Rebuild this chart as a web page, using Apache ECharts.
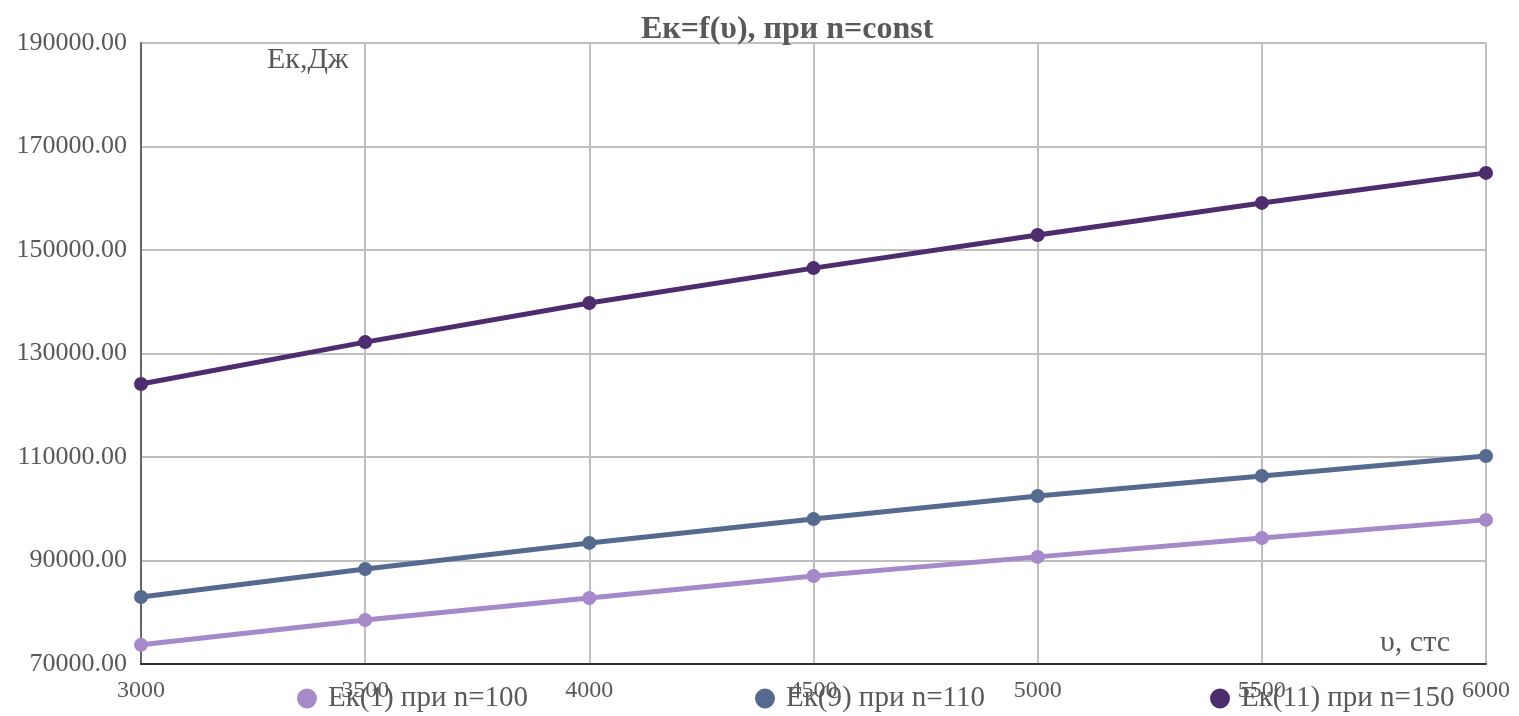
<!DOCTYPE html>
<html>
<head>
<meta charset="utf-8">
<script src="https://cdn.jsdelivr.net/npm/echarts@6/dist/echarts.min.js"></script>
<style>html,body{margin:0;padding:0;background:#fff}#c{width:1519px;height:716px}</style>
</head>
<body>
<div id="c"></div>
<script>
const speeds = [3000, 3500, 4000, 4500, 5000, 5500, 6000];
const seriesNames = ['Ек(1) при n=100', 'Ек(9) при n=110', 'Ек(11) при n=150'];
const ekN100 = [73700, 78500, 82750, 87000, 90700, 94350, 97850];
const ekN110 = [82950, 88350, 93400, 98000, 102450, 106350, 110200];
const ekN150 = [124100, 132200, 139750, 146500, 152900, 159100, 164900];
const colors = ['#A689C8', '#56698F', '#4D2D6E'];
const titleText = 'Ек=f(υ), при n=const';
const yName = 'Ек,Дж';
const xName = 'υ, стс';

const font = '"Liberation Serif", "DejaVu Serif", serif';
const toPairs = arr => speeds.map((s, i) => [s, arr[i]]);
const allData = [ekN100, ekN110, ekN150];

const chart = echarts.init(document.getElementById('c'), null, {renderer: 'canvas'});
chart.setOption({
  animation: false,
  backgroundColor: '#fff',
  title: {
    text: titleText, left: 636, top: 9,
    textStyle: {fontFamily: font, fontWeight: 'bold', fontSize: 32, color: '#595959'}
  },
  legend: [0, 1, 2].map((i) => ({
    data: [{name: seriesNames[i], icon: 'circle'}],
    left: [297, 755, 1210][i], top: 684, padding: 0,
    itemWidth: 20, itemHeight: 20, itemGap: 0,
    textStyle: {fontFamily: font, fontSize: 29, color: '#595959', padding: [0, 0, 0, 6]}
  })),
  grid: {left: 141, right: 33, top: 43, bottom: 52},
  xAxis: {
    type: 'value', min: 3000, max: 6000, interval: 500,
    name: xName, nameLocation: 'end', nameGap: -106,
    nameTextStyle: {fontFamily: font, fontSize: 30, color: '#595959', verticalAlign: 'bottom', align: 'left', padding: [0, 0, 6, 0]},
    axisLine: {show: true, lineStyle: {color: '#303030', width: 2}},
    axisTick: {show: false},
    axisLabel: {fontFamily: font, fontSize: 24, color: '#595959', margin: 15, formatter: v => String(v)},
    splitLine: {show: true, lineStyle: {color: '#BFBFBF', width: 2}}
  },
  yAxis: {
    type: 'value', min: 70000, max: 190000, interval: 20000,
    name: yName, nameLocation: 'end', nameGap: -2,
    nameTextStyle: {fontFamily: font, fontSize: 30, color: '#595959', align: 'left', verticalAlign: 'top', padding: [0, 0, 0, 126]},
    axisLine: {show: true, lineStyle: {color: '#666666', width: 2}},
    axisTick: {show: false},
    axisLabel: {fontFamily: font, fontSize: 26, color: '#595959', margin: 14, formatter: v => v.toFixed(2)},
    splitLine: {show: true, lineStyle: {color: '#BFBFBF', width: 2}}
  },
  series: [0, 1, 2].map(i => ({
    name: seriesNames[i], type: 'line', data: toPairs(allData[i]),
    symbol: 'circle', symbolSize: 14,
    lineStyle: {color: colors[i], width: 5},
    itemStyle: {color: colors[i]}
  }))
});
</script>
</body>
</html>
